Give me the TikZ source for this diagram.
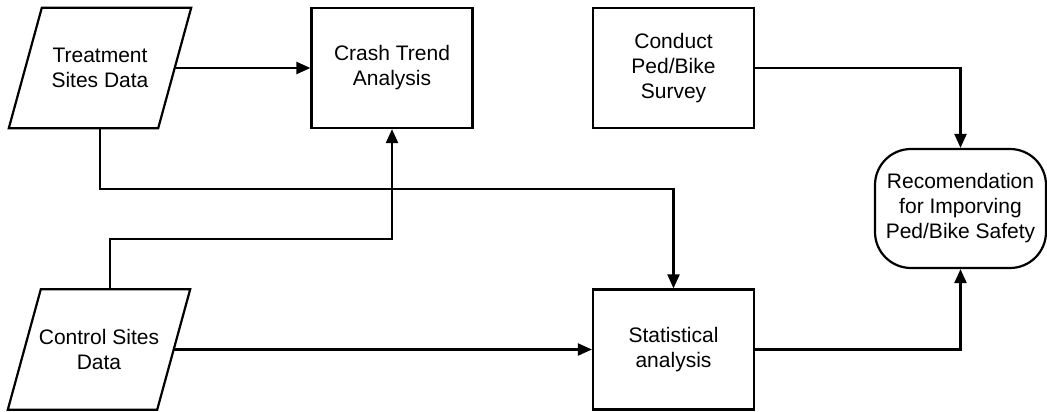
\documentclass[tikz,border=0pt]{standalone}
\usepackage{fontspec}
\setmainfont{Liberation Sans}
\usetikzlibrary{arrows.meta}

\tikzset{
  every picture/.style={x=1pt,y=-1pt},
  lbl/.style={align=center,font=\fontsize{21}{25}\selectfont,inner sep=0pt},
  boxnode/.style={lbl,draw,line width=2.2pt,minimum width=161pt,minimum height=120pt},
  datanode/.style={lbl,minimum width=149pt,minimum height=120pt},
  termnode/.style={lbl,draw,line width=2.2pt,rounded corners=36pt,minimum width=171pt,minimum height=119pt},
  conn/.style={line width=2.2pt},
  arr/.style={conn,-{Triangle[length=14pt,width=12pt]}}
}

\begin{document}
\begin{tikzpicture}
\useasboundingbox (0,0) rectangle (1047,412);

% data inputs (parallelogram outlines drawn below)
\node[datanode] (ts) at (100,68) {Treatment\\Sites Data};
\node[datanode] (cs) at (99,349.5) {Control Sites\\Data};
\foreach \n in {ts,cs}{
  \draw[line width=2.2pt]
    ([xshift=16.5pt]\n.north west) -- ([xshift=16.5pt]\n.north east)
    -- ([xshift=-16.5pt]\n.south east) -- ([xshift=-16.5pt]\n.south west) -- cycle;
}

% processes
\node[boxnode] (crash) at (392,68) {Crash Trend\\Analysis};
\node[boxnode] (survey) at (673.5,68) {Conduct\\Ped/Bike\\Survey};
\node[boxnode] (stat) at (673.5,349.5) {Statistical\\analysis};

% outcome
\node[termnode] (rec) at (960.5,208.5) {Recomendation\\for Imporving\\Ped/Bike Safety};

% bend points of the routed connectors
\coordinate (tbend) at (100,189);
\coordinate (cbend) at (110,239);

% connectors
\draw[arr] (ts.east) -- (crash.west);
\draw[arr] (ts.south) -- (tbend) -| (stat.north);
\draw[arr] (cbend |- cs.north) -- (cbend) -| (crash.south);
\draw[arr] (cs.east) -- (stat.west);
\draw[arr] (survey.east) -| (rec.north);
\draw[arr] (stat.east) -| (rec.south);
\end{tikzpicture}
\end{document}
